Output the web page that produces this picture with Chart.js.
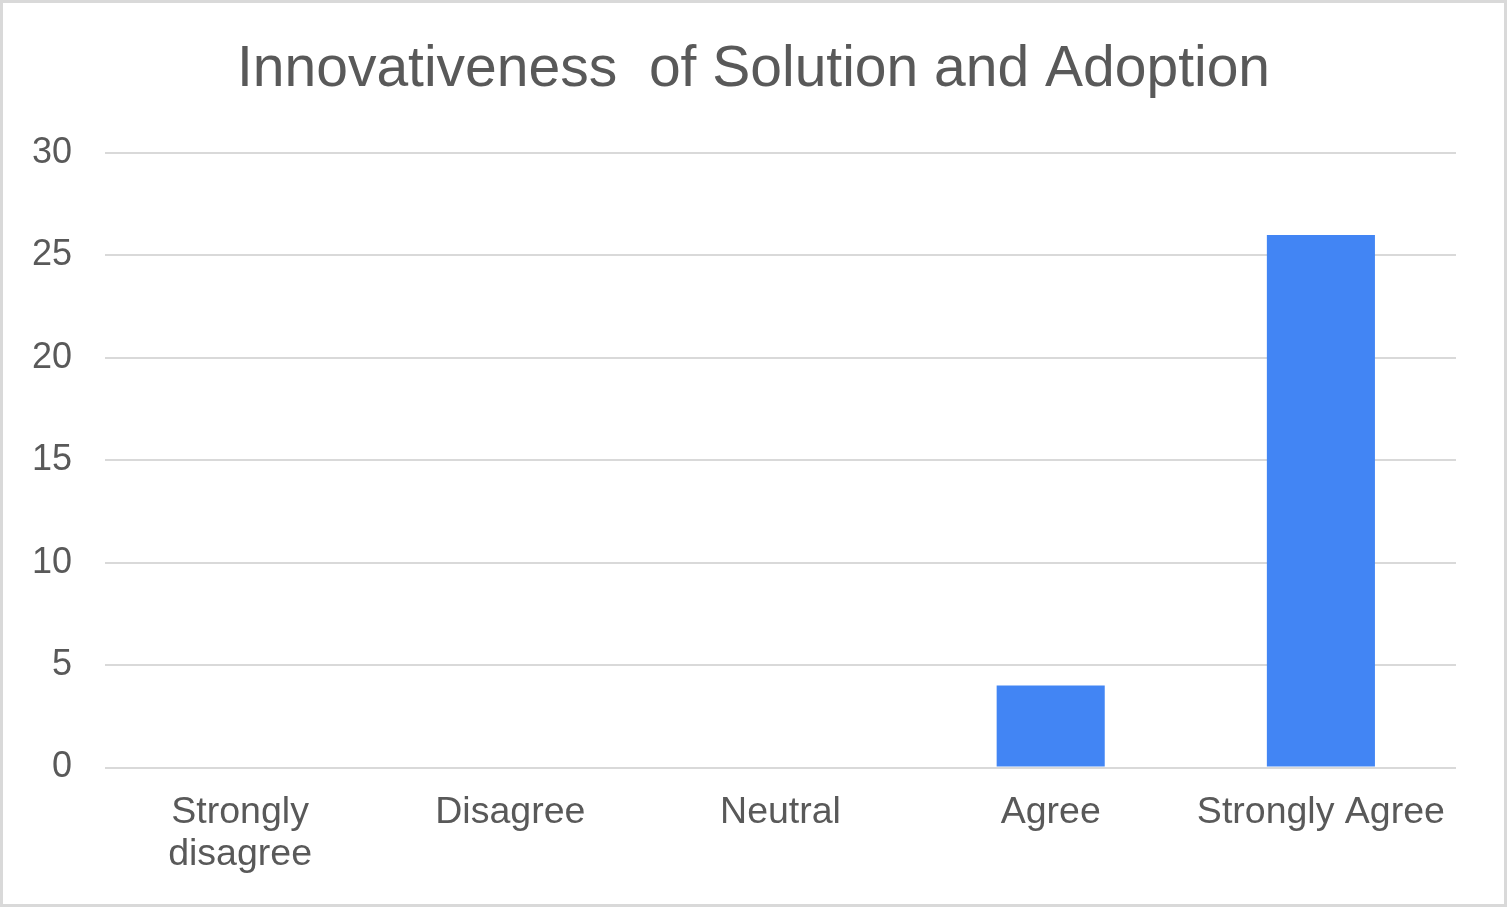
<!DOCTYPE html>
<html>
<head>
<meta charset="utf-8">
<script src="https://cdn.jsdelivr.net/npm/chart.js@4/dist/chart.umd.min.js"></script>
<style>
  html, body { margin: 0; padding: 0; background: #fff; }
  #frame {
    position: absolute; left: 0; top: 0;
    width: 1507px; height: 907px;
    box-sizing: border-box;
    border: 3px solid #d9d9d9;
    background: #fff;
  }
  #frame canvas { display: block; }
</style>
</head>
<body>
<div id="frame"><canvas id="chart" width="1501" height="901"></canvas></div>
<script>
var titleText = "Innovativeness  of Solution and Adoption";
var categories = [["Strongly", "disagree"], "Disagree", "Neutral", "Agree", "Strongly Agree"];
var responses = [0, 0, 0, 4, 26];
var yMin = 0;
var yMax = 30;
var yStep = 5;

(function () {
  var textColor = "#595959";
  var gridColor = "#d9d9d9";
  var fontFamily = "'Liberation Sans', Arial, sans-serif";

  new Chart(document.getElementById("chart"), {
    type: "bar",
    data: {
      labels: categories,
      datasets: [
        {
          label: "Responses",
          data: responses,
          backgroundColor: "#4285f4",
          borderWidth: 0,
          barPercentage: 0.4,
          categoryPercentage: 1,
          yAxisID: "y",
        },
      ],
    },
    options: {
      responsive: false,
      animation: false,
      devicePixelRatio: 1,
      layout: { padding: { left: 0, right: 0, top: 0, bottom: 4 } },
      plugins: {
        legend: { display: false },
        tooltip: { enabled: false },
        title: {
          display: true,
          text: titleText,
          color: textColor,
          font: { family: fontFamily, size: 57, weight: "normal", lineHeight: 1.2 },
          padding: { top: 33, bottom: 48.6 },
        },
      },
      scales: {
        x: {
          grid: { display: false, drawTicks: false },
          border: { display: false },
          ticks: {
            color: textColor,
            font: { family: fontFamily, size: 37.5, lineHeight: 1.1 },
            padding: 25,
            maxRotation: 0,
            autoSkip: false,
          },
        },
        y: {
          min: yMin,
          max: yMax,
          grid: { color: gridColor, lineWidth: 2, drawTicks: false },
          border: { display: false },
          ticks: {
            stepSize: yStep,
            color: textColor,
            font: { family: fontFamily, size: 36 },
            padding: 33,
          },
          afterFit: function (scale) {
            scale.width = 102;
          },
        },
        // empty right-hand spacer so the title stays centred on the whole frame
        spacer: {
          type: "linear",
          position: "right",
          grid: { display: false, drawTicks: false },
          border: { display: false },
          ticks: { display: false },
          afterFit: function (scale) {
            scale.width = 48;
          },
        },
      },
    },
  });
})();
</script>
</body>
</html>
